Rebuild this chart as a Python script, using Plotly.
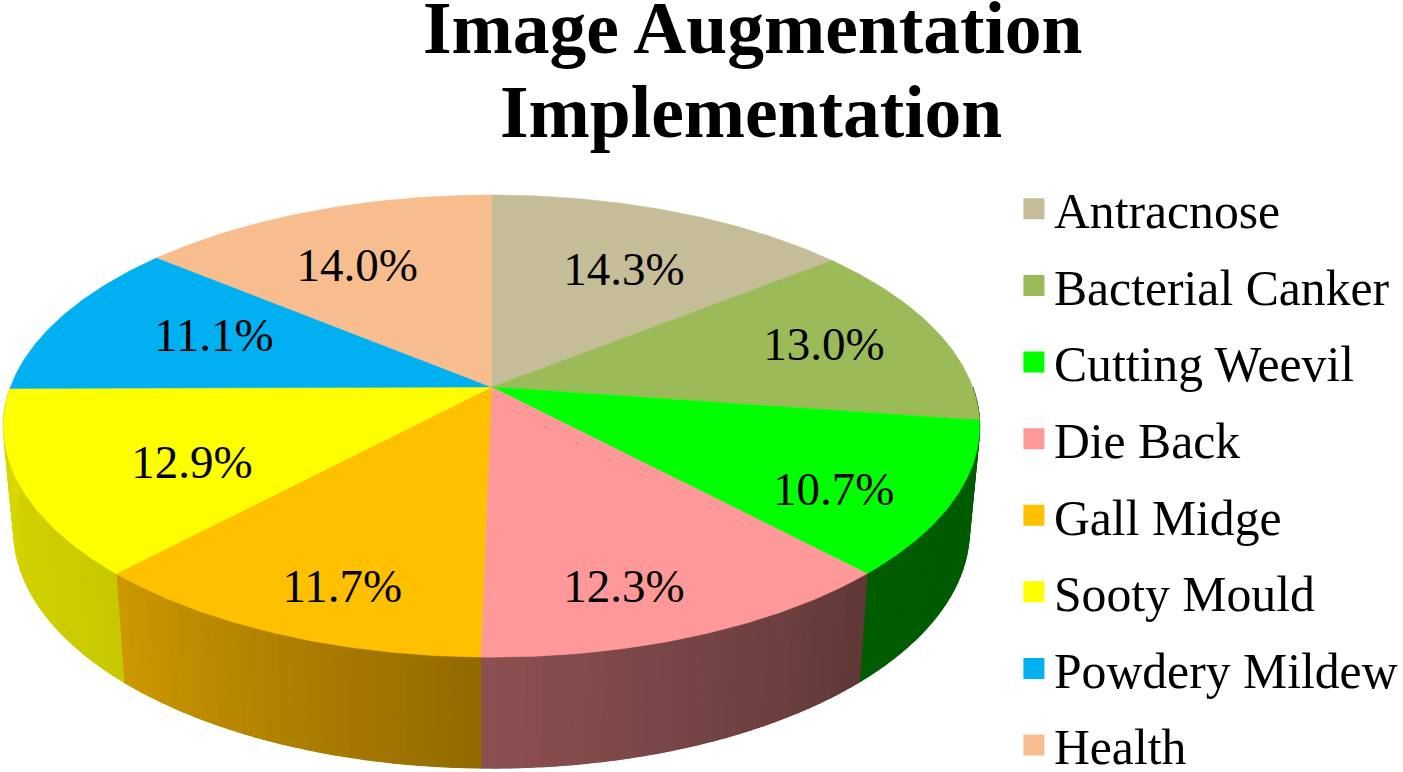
import numpy as np
import plotly.graph_objects as go

categories = ["Antracnose", "Bacterial Canker", "Cutting Weevil", "Die Back",
              "Gall Midge", "Sooty Mould", "Powdery Mildew", "Health"]
values = [14.3, 13.0, 10.7, 12.3, 11.7, 12.9, 11.1, 14.0]
top_colors = ["#C4BD97", "#9BBB59", "#00FF00", "#FF9999",
              "#FFC000", "#FFFF00", "#00B0F0", "#F7BD8E"]
side_start = [(98, 94, 75), (0, 92, 0), (0, 92, 0), (96, 56, 56),
              (146, 106, 0), (200, 200, 0), (0, 90, 125), (125, 95, 70)]
side_end = [(98, 94, 75), (0, 92, 0), (0, 92, 0), (140, 80, 82),
            (205, 152, 0), (218, 218, 0), (0, 90, 125), (125, 95, 70)]
label_x = [627, 828, 838, 627, 344, 193, 215, 359]
label_y = [273, 348, 493, 590, 590, 466, 339, 269]
title_lines = ["Image Augmentation", "Implementation"]

PAGE_W, PAGE_H = 1403, 800  # a little taller than the window: the legend runs to the bottom edge

# Perspective projection of the pie disc into the picture
CX, CY, A, B, K = 494.0, 387.0, 483.5, 224.5, 0.169
S_X, S_Y, DROP = 0.979, 1.03, 102.8


def top(theta):
    u, v = np.sin(theta), np.cos(theta)
    d = 1 + K * v
    return CX + A * u / d, CY - B * v / d


def bottom(theta):
    x, y = top(theta)
    return CX + S_X * (x - CX), CY + DROP + S_Y * (y - CY)


def rgb(c):
    return f"rgb({c[0]},{c[1]},{c[2]})"


total = sum(values)
edges = np.radians(np.cumsum([0] + values) / total * 360)
fig = go.Figure()

# side wall: a base polygon per slice, then narrow gradient strips over it
strips = []
for i in range(len(values)):
    lo, hi = max(edges[i], np.radians(90)), min(edges[i + 1], np.radians(269.6))
    if hi <= lo:
        continue
    arc = np.linspace(lo, hi, 60)
    tx, ty = top(arc)
    bx, by = bottom(arc[::-1])
    mid = [(a + b) // 2 for a, b in zip(side_start[i], side_end[i])]
    fig.add_trace(go.Scatter(
        x=np.r_[tx, bx, tx[0]], y=np.r_[ty, by, ty[0]], mode="lines", fill="toself",
        fillcolor=rgb(mid), line=dict(color=rgb(mid), width=0.5), hoverinfo="skip", showlegend=False))
    n = max(1, int(np.degrees(hi - lo) / 1.5))
    ts = np.linspace(lo, hi, n + 1)
    for j in range(n):
        f = (j + 0.5) / n
        c = [int(round(a + (b - a) * f)) for a, b in zip(side_start[i], side_end[i])]
        strips.append((ts[j], ts[j + 1], c))
for t0, t1, c in strips:
    arc = np.linspace(t0, t1, 3)
    tx, ty = top(arc)
    bx, by = bottom(arc[::-1])
    fig.add_trace(go.Scatter(
        x=np.r_[tx, bx, tx[0]], y=np.r_[ty, by, ty[0]], mode="lines", fill="toself",
        fillcolor=rgb(c), line=dict(color=rgb(c), width=1.2), hoverinfo="skip", showlegend=False))

# top face
for i, name in enumerate(categories):
    arc = np.linspace(edges[i], edges[i + 1], 80)
    x, y = top(arc)
    fig.add_trace(go.Scatter(
        x=np.r_[CX, x, CX], y=np.r_[CY, y, CY], mode="lines", fill="toself",
        fillcolor=top_colors[i], line=dict(color=top_colors[i], width=0.5),
        hoverinfo="text", text=f"{name}: {values[i]:.1f}%", showlegend=False,
        legendgroup=name))

# legend entries
for i, name in enumerate(categories):
    fig.add_trace(go.Scatter(
        x=[None], y=[None], mode="markers", name=name, legendgroup=name,
        marker=dict(symbol="square", size=16, color=top_colors[i],
                    line=dict(color=top_colors[i], width=5))))

# percentage labels
fig.add_trace(go.Scatter(
    x=label_x, y=label_y, mode="text", text=[f"{v:.1f}%" for v in values],
    textposition="middle center", hoverinfo="skip", showlegend=False,
    textfont=dict(family="Liberation Serif", size=47, color="black")))

fig.update_layout(
    width=PAGE_W, height=PAGE_H, autosize=False,
    margin=dict(l=0, r=0, t=0, b=0),
    paper_bgcolor="white", plot_bgcolor="white",
    xaxis=dict(range=[0, PAGE_W], visible=False, fixedrange=True),
    yaxis=dict(range=[PAGE_H, 0], visible=False, fixedrange=True),
    font=dict(family="Liberation Serif", color="black"),
    legend=dict(x=1019 / PAGE_W, y=1 - 170 / PAGE_H, xanchor="left", yanchor="top",
                font=dict(size=49.7), tracegroupgap=9, bgcolor="rgba(0,0,0,0)",
                itemclick=False, itemdoubleclick=False),
    annotations=[
        dict(x=756 / PAGE_W, y=1 - 28 / PAGE_H, xref="paper", yref="paper",
             text=f"<b>{title_lines[0]}</b>",
             showarrow=False, xanchor="center", yanchor="middle",
             font=dict(family="Liberation Serif", size=73.5, color="black")),
        dict(x=755 / PAGE_W, y=1 - 112 / PAGE_H, xref="paper", yref="paper",
             text=f"<b>{title_lines[1]}</b>",
             showarrow=False, xanchor="center", yanchor="middle",
             font=dict(family="Liberation Serif", size=73.5, color="black")),
    ],
)

fig.write_html("out.html", config={"displayModeBar": False}, post_script=(
    "document.body.style.margin='0';document.documentElement.style.overflow='hidden';"
))
